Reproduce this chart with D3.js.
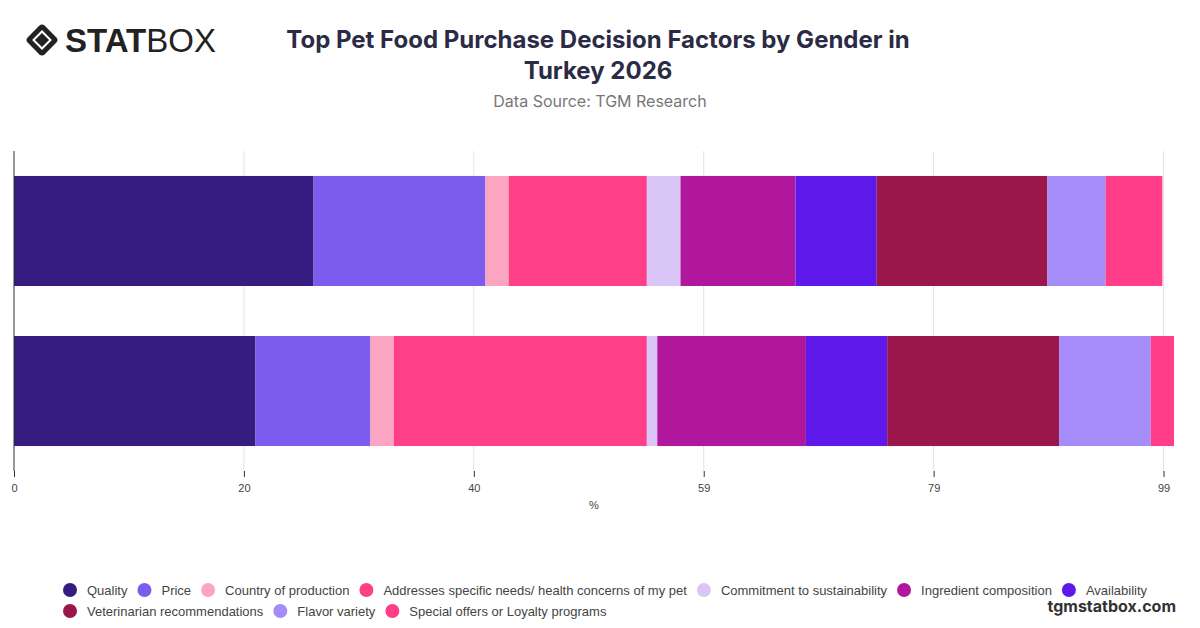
<!DOCTYPE html>
<html><head><meta charset="utf-8">
<script src="https://cdn.jsdelivr.net/npm/d3@7"></script>
<style>body{margin:0;background:#fff;font-family:"Inter","Liberation Sans",sans-serif;}</style>
</head><body><div id="vis"></div>
<script>
const groups = ["Male", "Female"];
const factors = ["Quality", "Price", "Country of production", "Addresses specific needs/ health concerns of my pet",
  "Commitment to sustainability", "Ingredient composition", "Availability", "Veterinarian recommendations",
  "Flavor variety", "Special offers or Loyalty programs"];
const colors = ["#361c80", "#7b5ced", "#fba5c2", "#ff3f86", "#dac6f6", "#b0179d", "#5f18ea", "#9b164b", "#a68cf8", "#ff3d88"];
const maleValues = [25.8, 14.8, 2.0, 11.9, 2.9, 9.9, 7.0, 14.7, 5.0, 4.9];
const femaleValues = [20.8, 9.9, 2.0, 21.8, 0.9, 12.8, 7.0, 14.8, 7.9, 2.0];
const tickValues = [0, 19.8, 39.6, 59.4, 79.2, 99];

const W = 1200, H = 628;
const svg = d3.select("#vis").append("svg").attr("width", W).attr("height", H);

// logo
const logo = svg.append("g").attr("transform", "translate(27,40)");
logo.append("rect").attr("x", 3).attr("y", -12).attr("width", 24).attr("height", 24)
  .attr("transform", "rotate(45,15,0)").attr("rx", 4).attr("fill", "#222");
logo.append("rect").attr("x", 9).attr("y", -6).attr("width", 12).attr("height", 12)
  .attr("transform", "rotate(45,15,0)").attr("fill", "none").attr("stroke", "#fff").attr("stroke-width", 2);
logo.append("text").attr("x", 38).attr("y", 12).attr("font-size", 33).attr("fill", "#222")
  .attr("font-family", "Liberation Sans, sans-serif")
  .html('<tspan font-weight="900">STAT</tspan><tspan font-weight="300">BOX</tspan>');

svg.append("text").attr("x", 598).attr("y", 48).attr("text-anchor", "middle")
  .attr("font-size", 24).attr("font-weight", 700).attr("fill", "#2b2b45")
  .text("Top Pet Food Purchase Decision Factors by Gender in");
svg.append("text").attr("x", 598).attr("y", 79).attr("text-anchor", "middle")
  .attr("font-size", 24).attr("font-weight", 700).attr("fill", "#2b2b45").text("Turkey 2026");
svg.append("text").attr("x", 600).attr("y", 107).attr("text-anchor", "middle")
  .attr("font-size", 16).attr("fill", "#777").text("Data Source: TGM Research");

const x = d3.scaleLinear().domain([0, 99.9]).range([14, 1174]);
const y = d3.scaleBand().domain(groups).range([151, 471]).paddingInner(0.3125).paddingOuter(0.156);

svg.append("g").selectAll("line").data(tickValues.slice(1)).join("line")
  .attr("x1", d => x(d)).attr("x2", d => x(d)).attr("y1", 151).attr("y2", 471)
  .attr("stroke", "#e3e3e3");

const rows = [maleValues, femaleValues];
rows.forEach((vals, r) => {
  let acc = 0;
  const segs = vals.map((v, i) => { const s = {x0: acc, x1: acc + v, c: colors[i]}; acc += v; return s; });
  svg.append("g").selectAll("rect").data(segs).join("rect")
    .attr("x", d => x(d.x0)).attr("width", d => x(d.x1) - x(d.x0))
    .attr("y", y(groups[r])).attr("height", y.bandwidth()).attr("fill", d => d.c);
});

svg.append("line").attr("x1", 14).attr("x2", 14).attr("y1", 151).attr("y2", 471).attr("stroke", "#333");

const ax = svg.append("g").attr("transform", "translate(0,471)")
  .call(d3.axisBottom(x).tickValues(tickValues).tickFormat(d => Math.round(d)).tickSize(6));
ax.select(".domain").remove();
ax.selectAll("line").attr("stroke", "#333");
ax.selectAll("text").attr("font-size", 11).attr("fill", "#444").attr("dy", "1.1em")
  .attr("font-family", "Liberation Sans, sans-serif");
svg.append("text").attr("x", 594).attr("y", 509).attr("text-anchor", "middle")
  .attr("font-size", 11).attr("fill", "#444").attr("font-family", "Liberation Sans, sans-serif").text("%");

// legend
const legendRows = [factors.slice(0, 7), factors.slice(7)];
legendRows.forEach((items, r) => {
  let lx = 62;
  items.forEach((name, j) => {
    const idx = r === 0 ? j : 7 + j;
    const g = svg.append("g").attr("transform", `translate(${lx},${590 + r * 21})`);
    g.append("circle").attr("cx", 8).attr("cy", 0).attr("r", 7).attr("fill", colors[idx]);
    const t = g.append("text").attr("x", 25).attr("y", 4.5).attr("font-size", 13).attr("fill", "#444")
      .attr("font-family", "Liberation Sans, sans-serif").text(name);
    lx += 25 + t.node().getComputedTextLength() + 9;
  });
});

svg.append("text").attr("x", 1176).attr("y", 612).attr("text-anchor", "end")
  .attr("font-size", 16).attr("font-weight", 700).attr("fill", "#333").text("tgmstatbox.com");
</script></body></html>
